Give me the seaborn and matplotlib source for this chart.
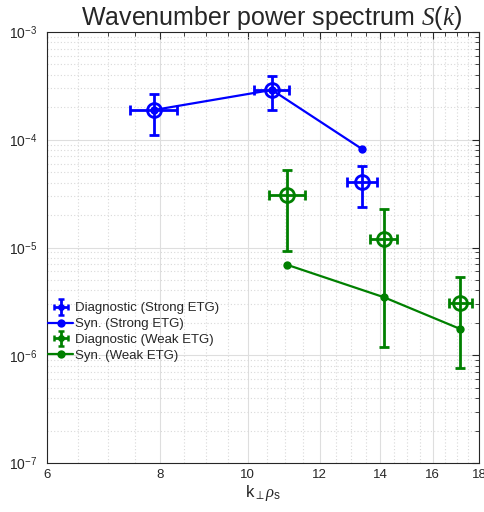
import numpy as np
import pandas as pd
import seaborn as sns
import matplotlib
matplotlib.use("Agg")
import matplotlib.pyplot as plt
from matplotlib.ticker import FixedLocator, FixedFormatter, NullFormatter
from matplotlib.legend_handler import HandlerErrorbar
from matplotlib.container import ErrorbarContainer

# ---------------- data ----------------
k_strong = [7.88, 10.63, 13.37]
k_strong_lo = [7.41, 10.16, 12.88]
k_strong_hi = [8.36, 11.11, 13.88]
S_strong_diag = [1.89e-4, 2.90e-4, 4.03e-5]
S_strong_diag_lo = [1.11e-4, 1.89e-4, 2.39e-5]
S_strong_diag_hi = [2.64e-4, 3.93e-4, 5.70e-5]
S_strong_syn = [1.89e-4, 2.90e-4, 8.2e-5]

k_weak = [11.06, 14.14, 17.17]
k_weak_lo = [10.56, 13.64, 16.68]
k_weak_hi = [11.55, 14.62, 17.68]
S_weak_diag = [3.07e-5, 1.19e-5, 3.03e-6]
S_weak_diag_lo = [9.3e-6, 1.20e-6, 7.67e-7]
S_weak_diag_hi = [5.24e-5, 2.26e-5, 5.36e-6]
S_weak_syn = [6.89e-6, 3.45e-6, 1.75e-6]

x_ticks = [6, 8, 10, 12, 14, 16, 18]
x_tick_labels = ["6", "8", "10", "12", "14", "16", "18"]
y_ticks = [1e-7, 1e-6, 1e-5, 1e-4, 1e-3]
y_tick_labels = ["10$^{-7}$", "10$^{-6}$", "10$^{-5}$", "10$^{-4}$", "10$^{-3}$"]

# ---------------- style ----------------
sns.set_style("white")
plt.rcParams['font.family'] = ['Liberation Sans', 'DejaVu Sans']
plt.rcParams['mathtext.fontset'] = 'custom'
plt.rcParams['mathtext.rm'] = 'Liberation Sans'
plt.rcParams['mathtext.sf'] = 'Liberation Sans'
plt.rcParams['mathtext.it'] = 'Liberation Serif:italic'

blue = (0, 0, 1)
green = (0, 0.5, 0)

fig = plt.figure(figsize=(4.85, 5.12), dpi=100)
ax = fig.add_axes([47 / 485, 1 - 463 / 512, 432 / 485, 431 / 512])

df_s = pd.DataFrame({"k": k_strong, "S": S_strong_syn})
df_w = pd.DataFrame({"k": k_weak, "S": S_weak_syn})

sns.lineplot(data=df_s, x="k", y="S", ax=ax, color=blue, lw=1.6, marker="o",
             markersize=6, markeredgewidth=0, label="Syn. (Strong ETG)",
             errorbar=None, zorder=2)
sns.lineplot(data=df_w, x="k", y="S", ax=ax, color=green, lw=1.6, marker="o",
             markersize=6, markeredgewidth=0, label="Syn. (Weak ETG)",
             errorbar=None, zorder=2)


def diag(k, klo, khi, s, slo, shi, color, label):
    k = np.array(k); s = np.array(s)
    yerr = [s - np.array(slo), np.array(shi) - s]
    xerr = [k - np.array(klo), np.array(khi) - k]
    ax.errorbar(k, s, yerr=yerr, xerr=xerr, fmt="o", mfc="none", mec=color,
                ms=10, mew=2, ecolor=color, elinewidth=2, capsize=3.5,
                capthick=2, label=label, zorder=3)


diag(k_strong, k_strong_lo, k_strong_hi, S_strong_diag, S_strong_diag_lo,
     S_strong_diag_hi, blue, "Diagnostic (Strong ETG)")
diag(k_weak, k_weak_lo, k_weak_hi, S_weak_diag, S_weak_diag_lo,
     S_weak_diag_hi, green, "Diagnostic (Weak ETG)")

ax.set_xscale("log")
ax.set_yscale("log")
ax.set_xlim(6, 18)
ax.set_ylim(1e-7, 1e-3)

ax.xaxis.set_major_locator(FixedLocator(x_ticks))
ax.xaxis.set_major_formatter(FixedFormatter(x_tick_labels))
minor_x = [v for v in np.arange(6.5, 18, 0.5) if v not in x_ticks]
ax.xaxis.set_minor_locator(FixedLocator(minor_x))
ax.xaxis.set_minor_formatter(NullFormatter())
ax.yaxis.set_major_locator(FixedLocator(y_ticks))
ax.yaxis.set_major_formatter(FixedFormatter(y_tick_labels))

ax.grid(which="major", color="#dedede", lw=0.8, ls="-")
ax.grid(which="minor", color="#d9d9d9", lw=0.8, ls=(0, (1, 2)))
ax.set_axisbelow(True)

ax.tick_params(which="both", direction="in", top=True, right=True,
               labelsize=9.5, color="#262626")
ax.tick_params(axis="x", which="major", pad=4)
ax.tick_params(axis="y", which="major", pad=7, labelsize=10)
ax.tick_params(which="major", length=5, width=0.8)
ax.tick_params(which="minor", length=3, width=0.6)
for sp in ax.spines.values():
    sp.set_color("#262626")
    sp.set_linewidth(0.8)

ax.set_title("Wavenumber power spectrum $S(k)$", fontsize=18, pad=5, x=0.52)
ax.set_xlabel(r"k$_{\perp}\rho_{\mathrm{s}}$", fontsize=12, labelpad=2)
ax.set_ylabel("")


def upd(leg_artist, orig):
    leg_artist.update_from(orig)
    if hasattr(leg_artist, "get_marker"):
        m = leg_artist.get_marker()
        if m == "o":
            leg_artist.set_markersize(3.5)
            leg_artist.set_markeredgewidth(1.5)
        elif m in ("|", "_"):
            leg_artist.set_markersize(4)
            leg_artist.set_markeredgewidth(1.8)


handles, labels = ax.get_legend_handles_labels()
order = ["Diagnostic (Strong ETG)", "Syn. (Strong ETG)",
         "Diagnostic (Weak ETG)", "Syn. (Weak ETG)"]
hmap = dict(zip(labels, handles))
ax.legend([hmap[o] for o in order], order, loc="upper left",
          bbox_to_anchor=(0.0, 0.376), frameon=False, fontsize=9.5,
          handlelength=1.9, handletextpad=0.15, labelspacing=0.27,
          borderaxespad=0.0, borderpad=0.1,
          handler_map={ErrorbarContainer: HandlerErrorbar(
              xerr_size=0.55, yerr_size=0.6, update_func=upd)})

fig.savefig("out.png", dpi=100)
